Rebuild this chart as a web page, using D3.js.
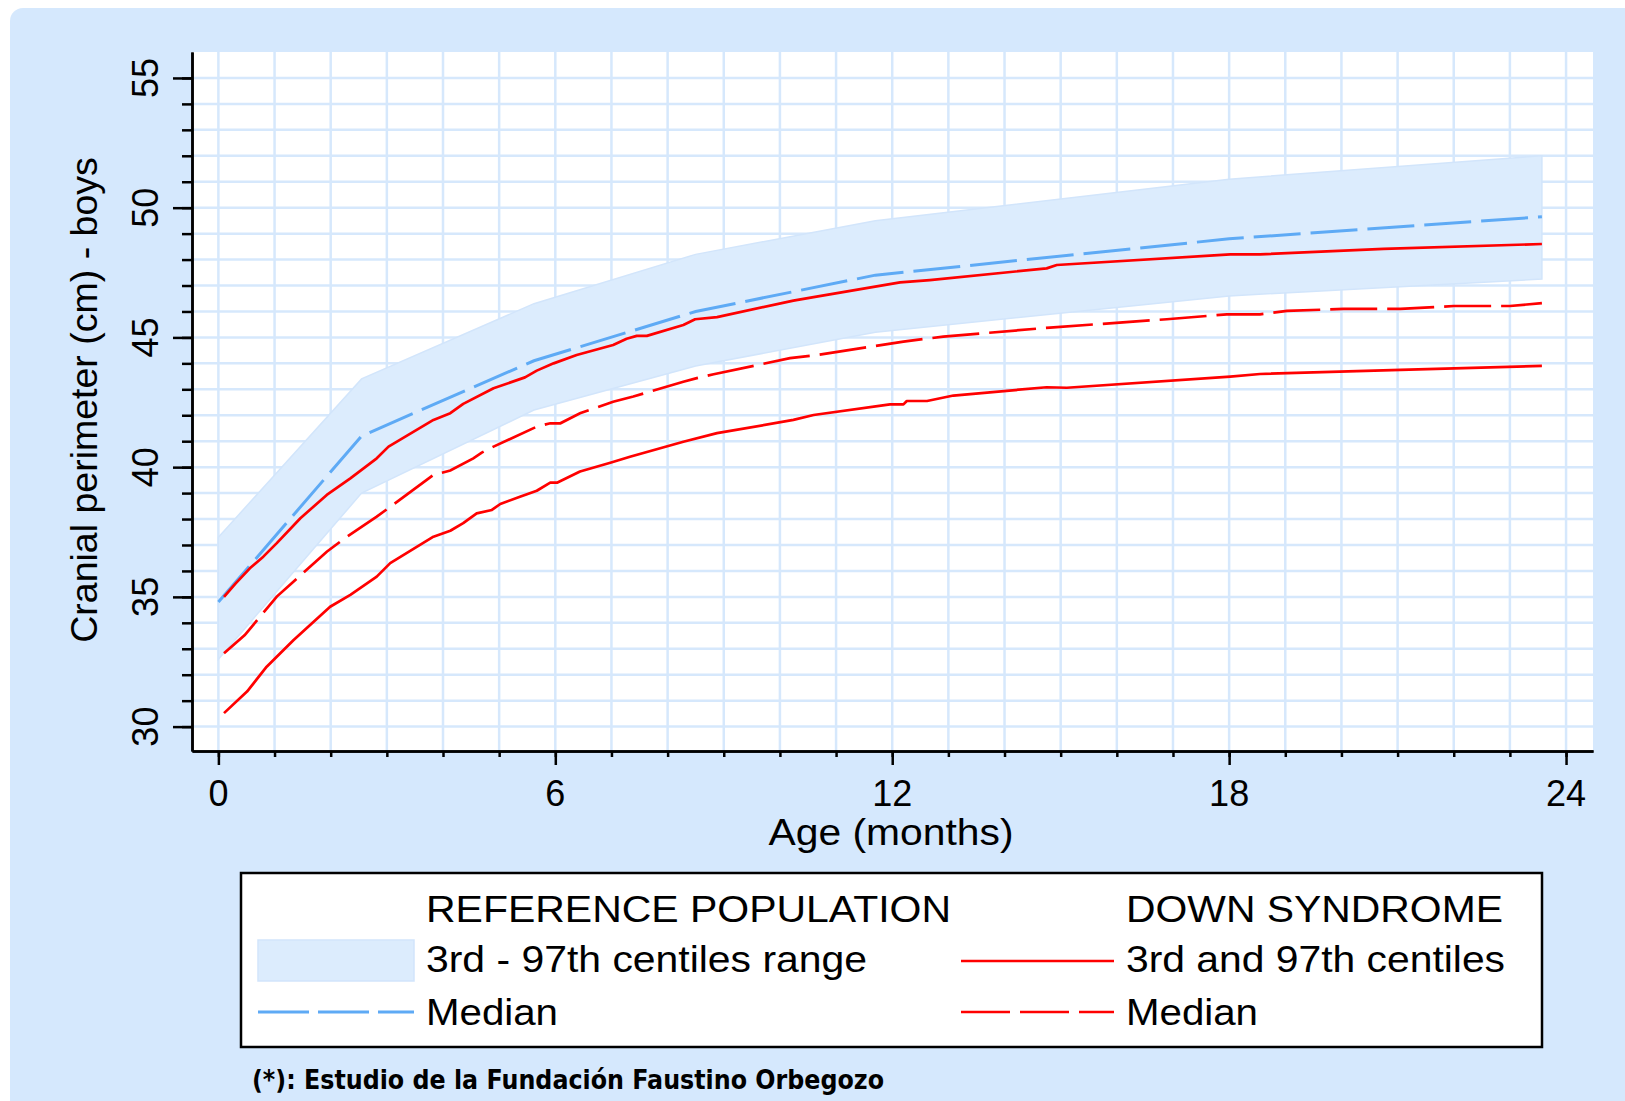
<!DOCTYPE html>
<html>
<head>
<meta charset="utf-8">
<script src="https://cdn.jsdelivr.net/npm/d3@7"></script>
<style>
  html, body { margin: 0; padding: 0; background: #ffffff; }
  svg { display: block; }
</style>
</head>
<body>
<svg id="chart" width="1625" height="1101"></svg>
<script>
// ---------------- DATA ----------------
// Reference population (Fundación Faustino Orbegozo)
const refAge    = [0, 2.55, 5.62, 8.5, 11.7, 18, 23.57];
const refP3     = [32.6, 39.0, 42.2, 43.9, 45.2, 46.6, 47.25];
const refP97    = [37.3, 43.4, 46.3, 48.2, 49.5, 51.1, 52.0];
const refMedian = [34.8, 41.2, 44.1, 46.0, 47.4, 48.8, 49.65];

// Down syndrome - 97th centile
const dsP97Age = [0.1, 0.3, 0.56, 0.8, 1.04, 1.46, 1.93, 2.35, 2.82, 3.03, 3.83, 4.13, 4.36, 4.9, 5.46, 5.67, 5.97, 6.38, 7.03, 7.27, 7.45, 7.63, 8.28, 8.49, 8.88, 10.24, 10.6, 12.14, 12.67, 14.75, 14.93, 18.02, 18.55, 20.75, 23.57];
const dsP97    = [35.0, 35.5, 36.1, 36.55, 37.07, 38.03, 38.93, 39.57, 40.34, 40.79, 41.82, 42.08, 42.44, 43.04, 43.46, 43.72, 44.0, 44.32, 44.71, 44.95, 45.06, 45.06, 45.48, 45.7, 45.78, 46.42, 46.55, 47.12, 47.21, 47.66, 47.79, 48.2, 48.2, 48.41, 48.6];

// Down syndrome - median
const dsMedAge = [0.1, 0.47, 1.04, 1.93, 2.29, 2.82, 3.83, 4.13, 4.54, 4.69, 4.9, 5.67, 5.91, 6.09, 6.44, 7.03, 7.39, 8.28, 8.52, 8.82, 10.18, 10.66, 12.2, 12.91, 14.81, 16.89, 17.96, 18.55, 19.03, 20.04, 21.05, 22.0, 23.0, 23.57];
const dsMed    = [32.83, 33.53, 35.01, 36.74, 37.32, 38.09, 39.7, 39.87, 40.34, 40.56, 40.79, 41.56, 41.69, 41.69, 42.08, 42.52, 42.72, 43.29, 43.43, 43.58, 44.2, 44.32, 44.84, 45.03, 45.38, 45.7, 45.89, 45.89, 46.02, 46.1, 46.1, 46.21, 46.21, 46.32];

// Down syndrome - 3rd centile
const dsP3Age = [0.1, 0.51, 0.86, 1.34, 1.99, 2.35, 2.82, 3.06, 3.83, 4.13, 4.36, 4.6, 4.87, 5.02, 5.37, 5.67, 5.91, 6.03, 6.44, 6.98, 7.33, 8.28, 8.88, 10.24, 10.6, 11.96, 12.2, 12.26, 12.62, 13.09, 14.75, 15.11, 18.02, 18.55, 21.05, 23.57];
const dsP3    = [30.52, 31.35, 32.31, 33.34, 34.62, 35.08, 35.78, 36.3, 37.32, 37.55, 37.84, 38.22, 38.35, 38.58, 38.86, 39.09, 39.4, 39.4, 39.83, 40.17, 40.4, 40.98, 41.31, 41.82, 42.01, 42.42, 42.42, 42.55, 42.55, 42.76, 43.08, 43.06, 43.49, 43.59, 43.75, 43.9];

// Axis ticks & labels
const xMajorTicks = [0, 6, 12, 18, 24];
const xMinorTicks = d3.range(0, 25, 1);
const yMajorTicks = [30, 35, 40, 45, 50, 55];
const yMinorTicks = d3.range(30, 56, 1);

const xTitle = "Age (months)";
const yTitle = "Cranial perimeter (cm) - boys";
const legendHeaderLeft = "REFERENCE POPULATION";
const legendHeaderRight = "DOWN SYNDROME";
const legendLabels = ["3rd - 97th centiles range", "Median", "3rd and 97th centiles", "Median"];
const footnote = "(*): Estudio de la Fundación Faustino Orbegozo";

// ---------------- STYLE ----------------
const FONT = "'Liberation Sans', Arial, Helvetica, sans-serif";
const panelColor = "#d5e8fd";
const gridColor = "#d6e8fc";
const bandColor = "#dcecfd";
const bandEdge = "#d2e5fb";
const blueMed = "#5eaaf5";
const red = "#ff0000";

const svg = d3.select("#chart");

// background panel
svg.append("rect")
  .attr("x", 10).attr("y", 8)
  .attr("width", 1640).attr("height", 1120)
  .attr("rx", 13).attr("ry", 13)
  .attr("fill", panelColor);

const plot = {left: 192, right: 1593, top: 52, bottom: 751};

const x = d3.scaleLinear().domain([-0.47, 24.48]).range([plot.left, plot.right]);
const y = d3.scaleLinear().domain([29.06, 56.0]).range([plot.bottom, plot.top]);

// plot area
svg.append("rect")
  .attr("x", plot.left).attr("y", plot.top)
  .attr("width", plot.right - plot.left).attr("height", plot.bottom - plot.top)
  .attr("fill", "#ffffff");

// gridlines
const grid = svg.append("g");
grid.selectAll("line.v").data(xMinorTicks).join("line")
  .attr("x1", d => x(d)).attr("x2", d => x(d))
  .attr("y1", plot.top).attr("y2", plot.bottom)
  .attr("stroke", gridColor).attr("stroke-width", 2.5);
grid.selectAll("line.h").data(yMinorTicks).join("line")
  .attr("y1", d => y(d)).attr("y2", d => y(d))
  .attr("x1", plot.left).attr("x2", plot.right)
  .attr("stroke", gridColor).attr("stroke-width", 2.5);

// reference band
const bandData = refAge.map((a, i) => ({a, lo: refP3[i], hi: refP97[i]}));
svg.append("path")
  .datum(bandData)
  .attr("d", d3.area().x(d => x(d.a)).y0(d => y(d.lo)).y1(d => y(d.hi)))
  .attr("fill", bandColor)
  .attr("stroke", bandEdge).attr("stroke-width", 1.5);

const line = d3.line().x(d => x(d[0])).y(d => y(d[1]));
const zip = (a, b) => a.map((v, i) => [v, b[i]]);

// reference median
svg.append("path")
  .datum(zip(refAge, refMedian))
  .attr("d", line)
  .attr("fill", "none").attr("stroke", blueMed)
  .attr("stroke-width", 3).attr("stroke-dasharray", "47,10");

// DS lines
svg.append("path").datum(zip(dsP97Age, dsP97)).attr("d", line)
  .attr("fill", "none").attr("stroke", red).attr("stroke-width", 2.7)
  .attr("stroke-linejoin", "round");
svg.append("path").datum(zip(dsP3Age, dsP3)).attr("d", line)
  .attr("fill", "none").attr("stroke", red).attr("stroke-width", 2.7)
  .attr("stroke-linejoin", "round");
svg.append("path").datum(zip(dsMedAge, dsMed)).attr("d", line)
  .attr("fill", "none").attr("stroke", red).attr("stroke-width", 2.7)
  .attr("stroke-dasharray", "47,10");

// axes
function styleAxis(g) {
  g.selectAll("path.domain").attr("stroke", "#000").attr("stroke-width", 2.5);
  g.selectAll(".tick line").attr("stroke", "#000").attr("stroke-width", 2.5);
  g.selectAll(".tick text").remove();
}
const xMinorAxis = svg.append("g").attr("transform", `translate(0,${plot.bottom})`)
  .call(d3.axisBottom(x).tickValues(xMinorTicks).tickSize(6).tickSizeOuter(0).tickFormat(""));
styleAxis(xMinorAxis);
const xAxis = svg.append("g").attr("transform", `translate(0,${plot.bottom})`)
  .call(d3.axisBottom(x).tickValues(xMajorTicks).tickSize(14).tickSizeOuter(0));
styleAxis(xAxis);
const yMinorAxis = svg.append("g").attr("transform", `translate(${plot.left},0)`)
  .call(d3.axisLeft(y).tickValues(yMinorTicks).tickSize(10).tickSizeOuter(0).tickFormat(""));
styleAxis(yMinorAxis);
const yAxis = svg.append("g").attr("transform", `translate(${plot.left},0)`)
  .call(d3.axisLeft(y).tickValues(yMajorTicks).tickSize(19).tickSizeOuter(0));
styleAxis(yAxis);

// tick labels
svg.append("g").selectAll("text").data(xMajorTicks).join("text")
  .attr("x", d => x(d)).attr("y", 806)
  .attr("text-anchor", "middle")
  .attr("font-family", FONT).attr("font-size", 36)
  .text(d => d);
svg.append("g").selectAll("text").data(yMajorTicks).join("text")
  .attr("transform", d => `translate(158,${y(d)}) rotate(-90)`)
  .attr("text-anchor", "middle")
  .attr("font-family", FONT).attr("font-size", 36)
  .text(d => d);

// axis titles
svg.append("text")
  .attr("x", 891).attr("y", 845)
  .attr("text-anchor", "middle")
  .attr("font-family", FONT).attr("font-size", 36)
  .attr("textLength", 245).attr("lengthAdjust", "spacingAndGlyphs")
  .text(xTitle);
svg.append("text")
  .attr("transform", "translate(97,400) rotate(-90)")
  .attr("text-anchor", "middle")
  .attr("font-family", FONT).attr("font-size", 37.5)
  .text(yTitle);

// legend
const lg = svg.append("g");
lg.append("rect")
  .attr("x", 241).attr("y", 873).attr("width", 1301).attr("height", 174)
  .attr("fill", "#ffffff").attr("stroke", "#000").attr("stroke-width", 2.5);

function ltext(str, xx, yy, w) {
  lg.append("text").attr("x", xx).attr("y", yy)
    .attr("font-family", FONT).attr("font-size", 37)
    .attr("textLength", w).attr("lengthAdjust", "spacingAndGlyphs")
    .text(str);
}
ltext(legendHeaderLeft, 426, 921.5, 525);
ltext(legendLabels[0], 426, 971.5, 441);
ltext(legendLabels[1], 426, 1025, 132);
ltext(legendHeaderRight, 1126, 921.5, 377);
ltext(legendLabels[2], 1126, 971.5, 379);
ltext(legendLabels[3], 1126, 1025, 132);

lg.append("rect")
  .attr("x", 258).attr("y", 940).attr("width", 156).attr("height", 41)
  .attr("fill", bandColor).attr("stroke", bandEdge).attr("stroke-width", 1.5);
lg.append("line")
  .attr("x1", 258).attr("x2", 414).attr("y1", 1012).attr("y2", 1012)
  .attr("stroke", blueMed).attr("stroke-width", 3).attr("stroke-dasharray", "51,9");
lg.append("line")
  .attr("x1", 961).attr("x2", 1114).attr("y1", 961).attr("y2", 961)
  .attr("stroke", red).attr("stroke-width", 2.7);
lg.append("line")
  .attr("x1", 961).attr("x2", 1114).attr("y1", 1012).attr("y2", 1012)
  .attr("stroke", red).attr("stroke-width", 2.7).attr("stroke-dasharray", "49,10");

// footnote
svg.append("text")
  .attr("x", 252).attr("y", 1089)
  .attr("font-family", "'DejaVu Sans', Verdana, sans-serif")
  .attr("font-weight", "bold").attr("font-size", 27)
  .attr("textLength", 632).attr("lengthAdjust", "spacingAndGlyphs")
  .text(footnote);
</script>
</body>
</html>
